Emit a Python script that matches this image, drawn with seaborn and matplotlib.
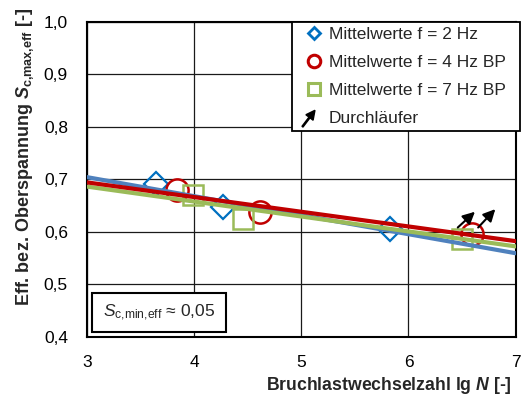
import matplotlib
matplotlib.use("Agg")
import matplotlib.pyplot as plt
import matplotlib.patches as mpatches
from matplotlib.lines import Line2D
from matplotlib.legend_handler import HandlerPatch
import seaborn as sns

# ---------------- data ----------------
x_2hz = [3.65, 4.27, 5.83]
y_2hz = [0.690, 0.647, 0.605]
x_4hz = [3.84, 4.62, 6.59]
y_4hz = [0.679, 0.637, 0.595]
x_7hz = [3.99, 4.46, 6.50]
y_7hz = [0.669, 0.625, 0.586]

fit_x = [3.0, 7.0]
fit_2hz = [0.704, 0.559]
fit_4hz = [0.694, 0.582]
fit_7hz = [0.686, 0.572]

# run-outs (Durchläufer): start and end points
arrow_x0 = [6.46, 6.65]
arrow_y0 = [0.608, 0.608]
arrow_x1 = [6.62, 6.81]
arrow_y1 = [0.638, 0.643]

labels = ["Mittelwerte f = 2 Hz", "Mittelwerte f = 4 Hz BP",
          "Mittelwerte f = 7 Hz BP", "Durchläufer"]
xticks = [3, 4, 5, 6, 7]
yticks = [0.4, 0.5, 0.6, 0.7, 0.8, 0.9, 1.0]
yticklabels = ["0,4", "0,5", "0,6", "0,7", "0,8", "0,9", "1,0"]

# ---------------- style ----------------
sns.set_theme(style="white")
fam = "Liberation Sans"
plt.rcParams["font.family"] = [fam, "DejaVu Sans"]
plt.rcParams["mathtext.fontset"] = "custom"
plt.rcParams["mathtext.rm"] = fam
plt.rcParams["mathtext.it"] = fam + ":italic"
plt.rcParams["mathtext.bf"] = fam + ":bold"
plt.rcParams["mathtext.bfit"] = fam + ":italic:bold"

BLUE_M = "#0070C0"
RED = "#C00000"
GREEN = "#9BBB59"
BLUE_L = "#4F81BD"

fig = plt.figure(figsize=(5.22, 3.96), dpi=100)
L, R, T, B = 86.7, 515.7, 21.7, 336.7
ax = fig.add_axes([L / 522, 1 - B / 396, (R - L) / 522, (B - T) / 396])

def ax_x(px):
    return (px - L) / (R - L)

def ax_y(py):
    return (B - py) / (B - T)

# markers
sns.lineplot(x=x_2hz, y=y_2hz, ax=ax, linestyle="", marker="D", markersize=12,
             markerfacecolor="none", markeredgecolor=BLUE_M, markeredgewidth=1.6,
             zorder=3, sort=False)
sns.lineplot(x=x_4hz, y=y_4hz, ax=ax, linestyle="", marker="o", markersize=16,
             markerfacecolor="none", markeredgecolor=RED, markeredgewidth=1.8,
             zorder=3, sort=False)
sns.lineplot(x=x_7hz, y=y_7hz, ax=ax, linestyle="", marker="s", markersize=15,
             markerfacecolor="none", markeredgecolor=GREEN, markeredgewidth=1.8,
             zorder=3, sort=False)

# regression lines
sns.lineplot(x=fit_x, y=fit_2hz, ax=ax, color=BLUE_L, lw=3, zorder=4)
sns.lineplot(x=fit_x, y=fit_7hz, ax=ax, color=GREEN, lw=3, zorder=5)
sns.lineplot(x=fit_x, y=fit_4hz, ax=ax, color=RED, lw=3, zorder=6)

# arrows
for x0, y0, x1, y1 in zip(arrow_x0, arrow_y0, arrow_x1, arrow_y1):
    ax.annotate("", xy=(x1, y1), xytext=(x0, y0),
                arrowprops=dict(arrowstyle="-|>,head_length=0.6,head_width=0.3",
                                color="black", lw=1.5, shrinkA=0, shrinkB=0),
                zorder=7)

ax.set_xlim(3, 7)
ax.set_ylim(0.4, 1.0)
ax.set_xticks(xticks)
ax.set_xticklabels([str(t) for t in xticks])
ax.set_yticks(yticks)
ax.set_yticklabels(yticklabels)
ax.grid(True, color="#1a1a1a", lw=0.9)
ax.set_axisbelow(True)
for s in ax.spines.values():
    s.set_color("black")
    s.set_linewidth(1.5)
ax.tick_params(axis="both", direction="inout", length=7, width=1.3,
               labelsize=12.5, colors="black")
ax.tick_params(axis="x", pad=10)
ax.tick_params(axis="y", pad=10)

ax.set_xlabel(r"Bruchlastwechselzahl lg $\mathbfit{N}$ [-]", fontsize=12.7,
              fontweight="bold", loc="right")
ax.xaxis.set_label_coords(ax_x(512), ax_y(375))
ax.set_ylabel(r"Eff. bez. Oberspannung $\mathbfit{S}_{\mathbf{c{,}max{,}eff}}$ [-]",
              fontsize=13, fontweight="bold", loc="top")
ax.yaxis.set_label_coords(ax_x(36), ax_y(8))

# legend
def make_arrow(legend, orig_handle, xdescent, ydescent, width, height, fontsize):
    return mpatches.FancyArrow(width * 0.16, -height * 0.3, width * 0.36, height * 1.35,
                               width=0.9, head_width=6.5, head_length=6.5,
                               length_includes_head=True, color="black")

arrow_handle = mpatches.FancyArrow(0, 0, 1, 1, color="black")
handles = [
    Line2D([], [], ls="", marker="D", ms=6.5, mfc="none", mec=BLUE_M, mew=2),
    Line2D([], [], ls="", marker="o", ms=9, mfc="none", mec=RED, mew=2.2),
    Line2D([], [], ls="", marker="s", ms=8, mfc="none", mec=GREEN, mew=2.2),
    arrow_handle,
]
lx0, lx1, ly0, ly1 = ax_x(291.7), ax_x(520), ax_y(130), ax_y(21.7)
leg = ax.legend(handles, labels, loc="upper left",
                bbox_to_anchor=(lx0, ly0, lx1 - lx0, ly1 - ly0), mode="expand",
                borderaxespad=0, frameon=True, fancybox=False, fontsize=12.5,
                handlelength=2.0, handletextpad=-0.15, labelspacing=0.74,
                borderpad=0.3,
                handler_map={arrow_handle: HandlerPatch(patch_func=make_arrow)})
leg.get_frame().set_edgecolor("black")
leg.get_frame().set_linewidth(1.3)
leg.get_frame().set_facecolor("white")
leg.get_frame().set_alpha(1)
leg.set_zorder(10)

# annotation box
ax.add_patch(mpatches.Rectangle((ax_x(92), ax_y(332.3)), ax_x(226) - ax_x(92),
                                ax_y(292.7) - ax_y(332.3), transform=ax.transAxes,
                                fc="white", ec="black", lw=1.5, zorder=8))
ax.text(ax_x(159), ax_y(313), r"$\mathit{S}_{\mathrm{c{,}min{,}eff}}$ ≈ 0,05",
        transform=ax.transAxes, fontsize=12.5, ha="center", va="center", zorder=9)

fig.savefig("out.png", dpi=100)
